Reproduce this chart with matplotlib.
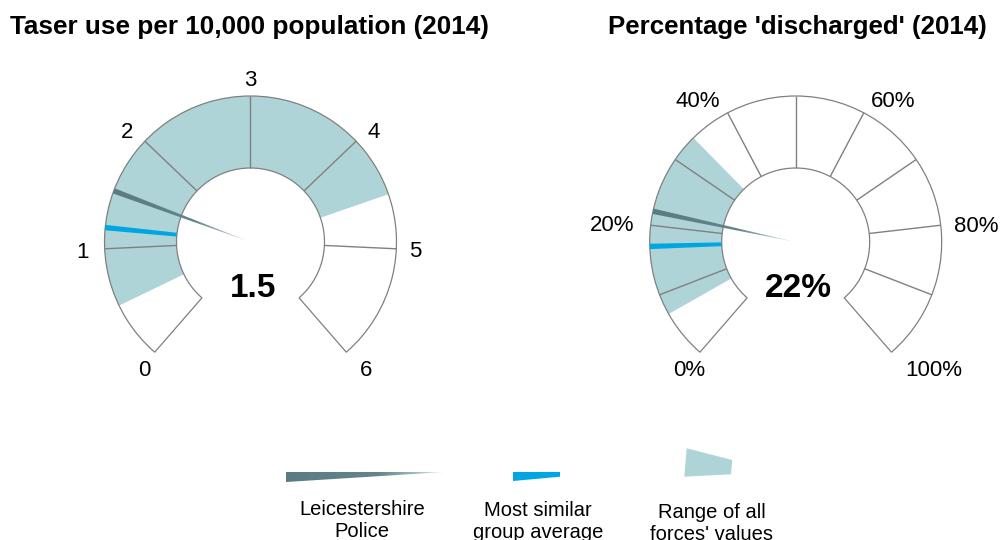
import numpy as np
import matplotlib
matplotlib.use("Agg")
import matplotlib.pyplot as plt
from matplotlib.patches import Wedge, Polygon
from matplotlib.colors import LinearSegmentedColormap

plt.rcParams['font.family'] = ['Liberation Sans', 'DejaVu Sans']

# ---------------- data ----------------
titles = ["Taser use per 10,000 population (2014)", "Percentage 'discharged' (2014)"]

g1_min, g1_max = 0, 6
g1_bounds = [0, 1, 2, 3, 4, 5, 6]
g1_ticks = [0, 1, 2, 3, 4, 5, 6]
g1_ticklabels = ['0', '1', '2', '3', '4', '5', '6']
g1_force = 1.5
g1_group = 1.18
g1_range = [0.5, 4.53]
g1_label = '1.5'

g2_min, g2_max = 0, 100
g2_bounds = [0, 10, 20, 30, 40, 50, 60, 70, 80, 90, 100]
g2_ticks = [0, 20, 40, 60, 80, 100]
g2_ticklabels = ['0%', '20%', '40%', '60%', '80%', '100%']
g2_force = 22
g2_group = 17
g2_range = [7, 34]
g2_label = '22%'

legend_labels = [["Leicestershire", "Police"], ["Most similar", "group average"],
                 ["Range of all", "forces' values"]]

# ---------------- style ----------------
C_RANGE = '#aed4d8'
C_BLUE = '#00a6e1'
C_NEEDLE = '#5b7b82'
C_EDGE = '#808080'
START, SPAN = 229.0, 278.0
R_OUT, R_IN = 146.0, 74.0
R_LABEL = 162.0

W, H = 1002, 540
fig = plt.figure(figsize=(W / 100, H / 100), dpi=100)
ax = fig.add_axes([0, 0, 1, 1])
ax.set_xlim(0, W)
ax.set_ylim(0, H)
ax.axis('off')

needle_cmap = LinearSegmentedColormap.from_list(
    'nd', [(0.0, '#eef3f4'), (0.18, '#a3b9be'), (0.42, '#64848b'), (1.0, C_NEEDLE)])


def gradient_poly(pts, origin, direction, length, zorder):
    pts = np.asarray(pts)
    poly = Polygon(pts, closed=True, facecolor='none', edgecolor='none')
    ax.add_patch(poly)
    x0, y0 = pts.min(axis=0)
    x1, y1 = pts.max(axis=0)
    xs = np.linspace(x0, x1, 200)
    ys = np.linspace(y0, y1, 200)
    X, Y = np.meshgrid(xs, ys)
    t = ((X - origin[0]) * direction[0] + (Y - origin[1]) * direction[1]) / length
    t = np.clip(t, 0, 1)
    im = ax.imshow(t, extent=[x0, x1, y0, y1], origin='lower', cmap=needle_cmap,
                   vmin=0, vmax=1, interpolation='bilinear', zorder=zorder, aspect='auto')
    im.set_clip_path(poly)


def draw_gauge(cx, cy, vmin, vmax, bounds, ticks, ticklabels, force, group, rng, label):
    def ang(v):
        return START - (v - vmin) / (vmax - vmin) * SPAN

    # base
    ax.add_patch(Wedge((cx, cy), R_OUT, ang(vmax), ang(vmin), width=R_OUT - R_IN,
                       facecolor='white', edgecolor='none', zorder=1))
    # range
    ax.add_patch(Wedge((cx, cy), R_OUT, ang(rng[1]), ang(rng[0]), width=R_OUT - R_IN,
                       facecolor=C_RANGE, edgecolor='none', zorder=2))
    # segment lines
    for b in bounds[1:-1]:
        a = np.radians(ang(b))
        ax.plot([cx + R_IN * np.cos(a), cx + R_OUT * np.cos(a)],
                [cy + R_IN * np.sin(a), cy + R_OUT * np.sin(a)],
                color=C_EDGE, lw=1.0, zorder=3, solid_capstyle='butt')
    # outline
    ax.add_patch(Wedge((cx, cy), R_OUT, ang(vmax), ang(vmin), width=R_OUT - R_IN,
                       facecolor='none', edgecolor=C_EDGE, lw=0.9, zorder=4))
    c = np.array([cx, cy])
    # group average bar
    a = np.radians(ang(group))
    u = np.array([np.cos(a), np.sin(a)])
    n = np.array([-np.sin(a), np.cos(a)])
    pts = [c + R_IN * u + 1.9 * n, c + R_OUT * u + 2.7 * n,
           c + R_OUT * u - 2.7 * n, c + R_IN * u - 1.9 * n]
    ax.add_patch(Polygon(pts, closed=True, facecolor=C_BLUE, edgecolor='none', zorder=5))
    # force needle
    a = np.radians(ang(force))
    u = np.array([np.cos(a), np.sin(a)])
    n = np.array([-np.sin(a), np.cos(a)])
    pts = [c, c + R_OUT * u + 2.7 * n, c + R_OUT * u - 2.7 * n]
    gradient_poly(pts, c, u, R_OUT, 6)
    # tick labels
    for v, tl in zip(ticks, ticklabels):
        a = np.radians(ang(v))
        ca, sa = np.cos(a), np.sin(a)
        if abs(ca) < 0.1:
            ax.text(cx + 156 * ca, cy + 156 * sa, tl, ha='center', va='baseline',
                    fontsize=16, zorder=7)
            continue
        r = R_LABEL
        dx, dy = 0, 0
        if sa < -0.5:
            dy = -4
            if ca < 0:
                ha = 'center'
            else:
                ha = 'left'
                dx = 3
        else:
            ha = 'left' if ca > 0 else 'right'
            if ca > 0 and abs(sa) < 0.3:
                r = R_LABEL - 3
        ax.text(cx + r * ca + dx, cy + r * sa + dy, tl, ha=ha,
                va='center_baseline', fontsize=16, zorder=7)
    # centre value
    ax.text(cx + 3, cy - 55, label, ha='center', va='baseline', fontsize=24,
            fontweight='bold', color='black', zorder=7)


CY = H - 242
draw_gauge(250.5, CY, g1_min, g1_max, g1_bounds, g1_ticks, g1_ticklabels,
           g1_force, g1_group, g1_range, g1_label)
draw_gauge(795.7, CY, g2_min, g2_max, g2_bounds, g2_ticks, g2_ticklabels,
           g2_force, g2_group, g2_range, g2_label)

# titles
ax.text(10, H - 34, titles[0], ha='left', va='baseline', fontsize=18.8, fontweight='bold')
ax.text(608, H - 34, titles[1], ha='left', va='baseline', fontsize=18.6, fontweight='bold')

# legend icons
gradient_poly([(286, H - 472), (445, H - 472), (286, H - 482)], (445, H - 472), (-1, 0), 159, 6)
ax.add_patch(Polygon([(513, H - 472), (560, H - 472), (560, H - 476.7), (513, H - 481)],
                     closed=True, facecolor=C_BLUE, edgecolor='none'))
ax.add_patch(Polygon([(686.7, H - 448.3), (732.3, H - 460), (731, H - 474.3), (684.3, H - 476.7)],
                     closed=True, facecolor=C_RANGE, edgecolor='none'))

# legend texts
leg_x = [362, 538, 712]
leg_base = [515, 516, 518]
for x, b, lines in zip(leg_x, leg_base, legend_labels):
    ax.text(x, H - b, lines[0], ha='center', va='baseline', fontsize=14.5)
    ax.text(x, H - b - 22, lines[1], ha='center', va='baseline', fontsize=14.5)

fig.savefig('out.png', dpi=100)
